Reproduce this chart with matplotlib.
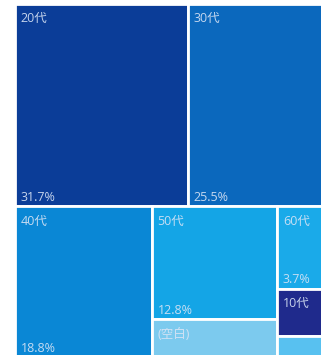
import matplotlib
matplotlib.use("Agg")
import matplotlib.pyplot as plt
from matplotlib.patches import Rectangle

plt.rcParams['font.family'] = ['Open Sans', 'Noto Sans CJK JP', 'DejaVu Sans']

# Age-group share (%)
top_labels = ["20代", "30代"]
top_values = [31.7, 25.5]
bottom_labels = [["40代"], ["50代", "(空白)"], ["60代", "10代", "70代"]]
bottom_values = [[18.8], [12.8, 4.4], [3.7, 2.1, 1.0]]
show_pct = {"20代", "30代", "40代", "50代", "60代"}

colors = {
    "20代": "#0b3d98",
    "30代": "#0b68bd",
    "40代": "#0a87d5",
    "50代": "#14a5e6",
    "(空白)": "#7ccaee",
    "60代": "#1aaae9",
    "10代": "#1f2a8c",
    "70代": "#58c1f0",
}

fig = plt.figure(figsize=(3.21, 3.55), dpi=100)
ax = fig.add_axes([15 / 321, 1 - 358 / 355, 312 / 321, 354 / 355])
ax.set_xlim(0, 1)
ax.set_ylim(0, 1)
ax.axis("off")

total = sum(top_values) + sum(sum(g) for g in bottom_values)
rects = []

# top band: items side by side
top_h = sum(top_values) / total
x = 0.0
for lab, v in zip(top_labels, top_values):
    w = v / sum(top_values)
    rects.append((lab, v, x, 1 - top_h, w, top_h))
    x += w

# bottom band: columns, each stacked top-to-bottom
bot_h = 1 - top_h
bot_total = sum(sum(g) for g in bottom_values)
x = 0.0
for labs, vals in zip(bottom_labels, bottom_values):
    w = sum(vals) / bot_total
    ytop = bot_h
    for lab, v in zip(labs, vals):
        h = bot_h * v / sum(vals)
        rects.append((lab, v, x, ytop - h, w, h))
        ytop -= h
    x += w

txt_color = "#d9e4f5"
fs = 9
for lab, v, x0, y0, w, h in rects:
    ax.add_patch(Rectangle((x0, y0), w, h, facecolor=colors[lab],
                           edgecolor="white", linewidth=2.0))
    if h * 355 > 30:
        ax.annotate(lab, (x0, y0 + h), xytext=(4, -6), textcoords="offset points",
                    ha="left", va="top", fontsize=fs, color=txt_color, alpha=0.9)
    if lab in show_pct:
        ax.annotate(f"{v}%", (x0, y0), xytext=(4, 4), textcoords="offset points",
                    ha="left", va="baseline", fontsize=fs, color=txt_color, alpha=0.9)

fig.savefig("out.png", dpi=100)
